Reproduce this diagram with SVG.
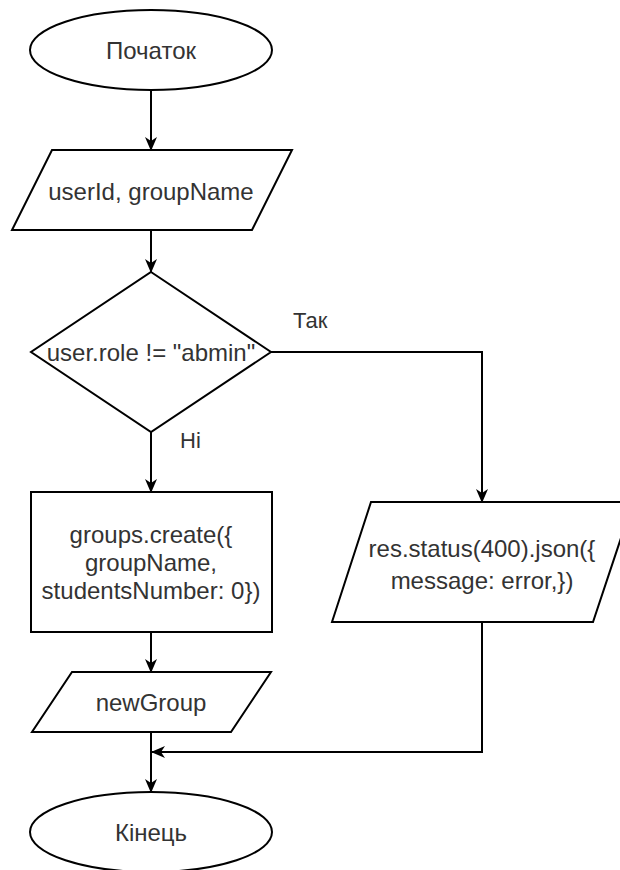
<svg xmlns="http://www.w3.org/2000/svg" width="620" height="870" viewBox="0 0 620 870">
  <style>
    .shape { fill: #ffffff; stroke: #000000; stroke-width: 2; }
    .edge { fill: none; stroke: #000000; stroke-width: 2; }
    .label { font-family: "Liberation Sans", Arial, sans-serif; font-size: 24px; fill: #333333; text-anchor: middle; dominant-baseline: central; }
    .edge-label { font-family: "Liberation Sans", Arial, sans-serif; font-size: 22px; fill: #333333; }
  </style>
  <defs>
    <marker id="arrow" markerUnits="userSpaceOnUse" markerWidth="14" markerHeight="14" viewBox="0 0 14 14" refX="13" refY="7" orient="auto">
      <path d="M0,1 L14,7 L0,13 L4,7 Z" fill="#000000"/>
    </marker>
  </defs>

  <rect width="620" height="870" fill="#ffffff"/>

  <!-- connectors -->
  <g id="connectors">
    <path class="edge" d="M151,90 V150" marker-end="url(#arrow)"/>
    <path class="edge" d="M151,230 V272" marker-end="url(#arrow)"/>
    <path class="edge" d="M271,352 H482 V502" marker-end="url(#arrow)"/>
    <path class="edge" d="M151,432 V492" marker-end="url(#arrow)"/>
    <path class="edge" d="M151,632 V672" marker-end="url(#arrow)"/>
    <path class="edge" d="M151,732 V792" marker-end="url(#arrow)"/>
    <path class="edge" d="M482,622 V752 H152" marker-end="url(#arrow)"/>
    <text class="edge-label" x="293" y="328">Так</text>
    <text class="edge-label" x="180" y="448">Ні</text>
  </g>

  <!-- start terminator -->
  <g id="start">
    <ellipse class="shape" cx="151" cy="50" rx="121" ry="40"/>
    <text class="label" x="151" y="50">Початок</text>
  </g>

  <!-- input data -->
  <g id="input">
    <polygon class="shape" points="52,150 292,150 252,230 12,230"/>
    <text class="label" x="151" y="191">userId, groupName</text>
  </g>

  <!-- role check -->
  <g id="decision">
    <polygon class="shape" points="151,272 271,352 151,432 31,352"/>
    <text class="label" x="151" y="352">user.role != "abmin"</text>
  </g>

  <!-- create group -->
  <g id="create">
    <rect class="shape" x="31" y="492" width="241" height="140"/>
    <text class="label" x="151" y="534">groups.create({</text>
    <text class="label" x="151" y="562">groupName,</text>
    <text class="label" x="151" y="590">studentsNumber: 0})</text>
  </g>

  <!-- error response -->
  <g id="error">
    <polygon class="shape" points="371,502 633,502 593,622 332,622"/>
    <text class="label" x="482" y="548">res.status(400).json({</text>
    <text class="label" x="482" y="580">message: error,})</text>
  </g>

  <!-- output -->
  <g id="output">
    <polygon class="shape" points="72,672 271,672 231,732 32,732"/>
    <text class="label" x="151" y="702">newGroup</text>
  </g>

  <!-- end terminator -->
  <g id="end">
    <ellipse class="shape" cx="151" cy="832" rx="121" ry="40"/>
    <text class="label" x="151" y="832">Кінець</text>
  </g>
</svg>
